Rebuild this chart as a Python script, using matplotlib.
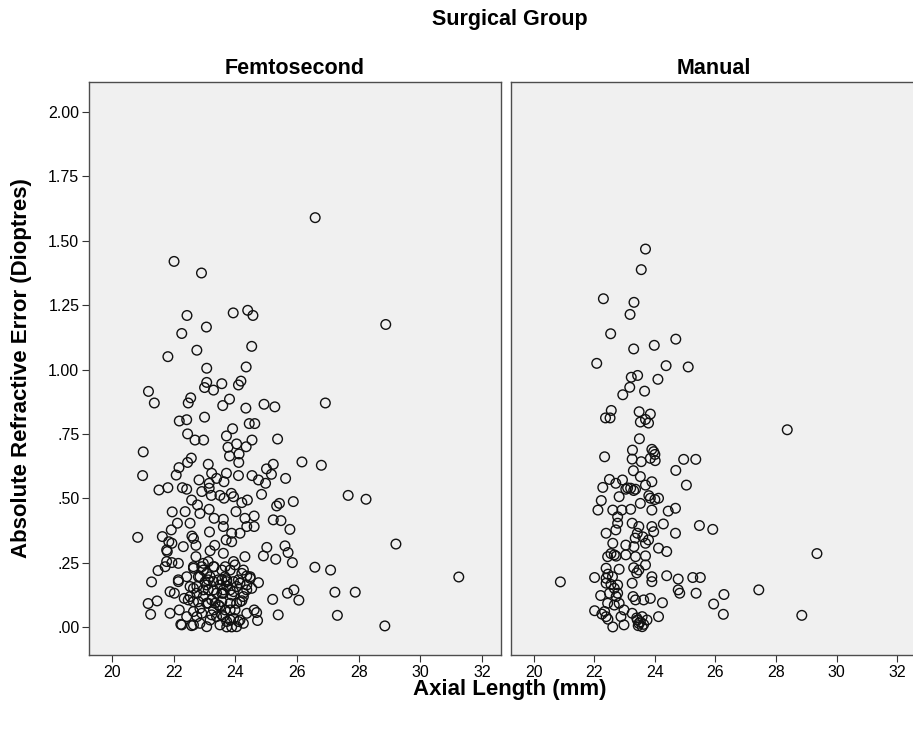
import matplotlib

matplotlib.use("Agg")
import matplotlib.pyplot as plt

plt.rcParams.update(
    {
        "font.family": ["Liberation Sans", "DejaVu Sans"],
        "figure.facecolor": "white",
        "savefig.facecolor": "white",
    }
)

# Femtosecond group: axial length (mm) vs absolute refractive error (D)
femto_axial = [
    26.59, 22.01, 22.90, 22.43, 23.93, 24.40, 24.57, 23.06, 22.26, 28.88,
    24.53, 22.75, 21.81, 23.07, 24.35, 23.07, 23.56, 24.18, 24.10, 23.00,
    23.29, 21.18, 21.37, 22.55, 22.47, 23.81, 23.59, 24.34, 24.93, 25.28,
    26.92, 23.00, 22.18, 22.42, 24.45, 24.63, 23.91,
    22.45, 22.69, 22.97, 23.71, 24.04, 24.54, 25.37, 23.76, 24.35,
    21.01, 24.12, 23.81, 24.11, 22.57, 22.45, 23.12, 26.16, 26.79, 25.23, 25.01,
    20.99, 22.17, 22.08, 23.71, 24.10, 24.54, 25.17, 25.63, 23.23, 23.39,
    22.82, 23.63, 24.75, 24.98, 23.15,
    21.52, 21.81, 22.28, 22.42, 22.91, 23.22, 23.87, 23.63, 24.85, 27.66,
    28.24, 22.58, 23.15, 23.50, 23.94,
    25.88, 25.43, 25.34, 22.77, 24.21, 24.39, 21.95, 22.37, 22.85, 23.15,
    24.02, 24.61, 23.31, 23.61, 24.31,
    25.23, 25.48, 25.77, 22.53, 22.12, 21.92, 23.61, 24.37, 24.61, 23.16,
    24.15, 23.88,
    20.83, 21.63, 21.84, 22.59, 22.64, 23.88, 23.70, 22.31, 22.72, 23.33,
    25.02, 25.61, 29.21, 21.79, 23.18,
    24.91, 25.31, 25.71, 25.85, 26.58, 27.09, 21.77, 21.94, 22.72, 23.61,
    24.31, 23.94, 23.12,
    21.49, 21.72, 22.64, 22.96, 23.31, 23.83, 24.21, 24.37, 22.42, 22.85,
    23.18, 23.66, 24.48, 24.75, 21.28,
    22.15, 22.53, 23.07, 23.50, 23.72, 24.04, 24.37, 22.02, 22.75, 23.39,
    23.88, 25.90, 25.69, 27.23, 27.89, 25.21, 26.06,
    21.17, 21.46, 22.34, 22.64, 23.23, 23.56, 24.21, 21.88, 22.18, 22.85,
    23.29, 23.83, 24.61, 24.69, 21.25, 25.39, 27.31,
    22.23, 22.58, 22.85, 23.18, 23.50, 23.88, 24.26, 24.72, 23.72, 28.85, 23.07,
    22.91, 23.07, 23.02, 23.29, 23.56, 23.72, 23.94, 22.75, 23.12, 23.61,
    23.83, 24.15, 22.53, 22.96, 23.34, 23.07, 23.50, 24.04, 24.26,
    22.42, 22.75, 23.39, 23.94, 24.10, 23.61, 22.64,
    31.25,
    # dense cluster
    21.94, 21.77, 22.15, 22.15, 21.88, 22.26, 22.64,
    22.64, 22.96, 23.29, 23.56, 22.80, 23.12, 23.45, 22.64, 22.96, 23.29,
    23.56, 22.47, 22.80, 23.12, 23.45, 22.91, 23.23, 23.56,
    23.67, 23.99, 24.26, 24.48, 23.72, 24.10, 24.37, 23.61, 23.94, 24.26,
    24.53, 23.83, 24.15, 23.67, 23.99, 24.37, 23.83, 24.15, 23.72, 24.04,
]
femto_error = [
    1.590, 1.420, 1.375, 1.210, 1.220, 1.230, 1.210, 1.165, 1.140, 1.175,
    1.090, 1.075, 1.050, 1.005, 1.010, 0.950, 0.945, 0.955, 0.940, 0.930,
    0.920, 0.915, 0.870, 0.890, 0.870, 0.885, 0.860, 0.850, 0.865, 0.855,
    0.870, 0.815, 0.800, 0.805, 0.790, 0.790, 0.770,
    0.750, 0.726, 0.726, 0.742, 0.711, 0.726, 0.730, 0.698, 0.700,
    0.680, 0.672, 0.664, 0.639, 0.656, 0.639, 0.632, 0.641, 0.628, 0.632, 0.614,
    0.588, 0.619, 0.590, 0.597, 0.588, 0.588, 0.593, 0.577, 0.597, 0.577,
    0.571, 0.564, 0.571, 0.558, 0.558,
    0.532, 0.541, 0.541, 0.535, 0.526, 0.511, 0.519, 0.500, 0.515, 0.511,
    0.496, 0.493, 0.539, 0.511, 0.506,
    0.487, 0.480, 0.470, 0.474, 0.483, 0.493, 0.447, 0.448, 0.441, 0.457,
    0.448, 0.431, 0.422, 0.418, 0.422,
    0.416, 0.413, 0.379, 0.403, 0.403, 0.377, 0.390, 0.390, 0.390, 0.369,
    0.364, 0.364,
    0.348, 0.351, 0.331, 0.353, 0.344, 0.331, 0.338, 0.312, 0.317, 0.317,
    0.309, 0.315, 0.322, 0.293, 0.296,
    0.276, 0.263, 0.289, 0.250, 0.232, 0.221, 0.254, 0.250, 0.273, 0.286,
    0.273, 0.254, 0.254,
    0.219, 0.234, 0.228, 0.221, 0.234, 0.221, 0.208, 0.198, 0.195, 0.195,
    0.195, 0.195, 0.189, 0.172, 0.175,
    0.176, 0.157, 0.163, 0.163, 0.159, 0.157, 0.144, 0.131, 0.131, 0.131,
    0.124, 0.144, 0.131, 0.135, 0.135, 0.107, 0.104,
    0.091, 0.101, 0.111, 0.098, 0.105, 0.098, 0.102, 0.053, 0.066, 0.072,
    0.066, 0.066, 0.066, 0.056, 0.049, 0.047, 0.045,
    0.010, 0.005, 0.014, 0.027, 0.008, 0.000, 0.014, 0.025, 0.021, 0.004, 0.001,
    0.234, 0.208, 0.176, 0.176, 0.183, 0.176, 0.176, 0.157, 0.144, 0.144,
    0.144, 0.170, 0.118, 0.118, 0.092, 0.092, 0.079, 0.092, 0.118,
    0.040, 0.040, 0.040, 0.034, 0.021, 0.040, 0.060,
    0.194,
    0.325, 0.299, 0.247, 0.183, 0.137, 0.008, 0.008,
    0.234, 0.247, 0.234, 0.221, 0.195, 0.183, 0.183, 0.150, 0.144, 0.144,
    0.131, 0.105, 0.098, 0.092, 0.085, 0.053, 0.047, 0.047,
    0.234, 0.241, 0.221, 0.195, 0.183, 0.183, 0.163, 0.131, 0.137, 0.131,
    0.150, 0.092, 0.098, 0.066, 0.066, 0.053, 0.027, 0.027, 0.000, 0.001,
]

# Manual group
manual_axial = [
    23.69, 23.55, 22.30, 23.31, 23.18, 22.54, 23.30, 23.98, 24.69, 22.08,
    24.37, 25.10, 23.22, 23.43, 24.10, 23.17, 23.66, 22.94, 22.56, 22.37,
    22.52, 23.48, 23.85, 23.69, 23.52, 23.79, 28.37,
    23.49, 23.26, 23.90, 23.96, 22.34, 23.25, 23.55, 24.01, 24.95, 25.35,
    24.69, 23.29, 23.52, 25.04, 22.50, 22.28, 22.71, 22.93, 23.04, 23.20,
    23.36, 23.69, 23.90, 23.85, 24.12, 22.23, 22.82, 23.52, 22.12, 22.61,
    22.91, 23.20, 23.90, 24.44, 24.68, 22.77, 22.77, 23.25, 23.47, 23.90,
    24.28, 23.96, 25.47, 25.91, 22.39, 22.71, 24.68, 23.42, 22.61, 23.04,
    23.31, 23.69, 23.79, 24.12, 24.39, 22.44, 22.66, 23.04, 23.36, 23.69,
    22.39, 22.82, 23.47, 23.69, 23.90, 24.39, 24.77, 25.25, 25.50, 20.88,
    22.01, 22.39, 22.39, 22.77, 23.25, 23.90, 24.77, 24.82, 25.36, 26.28,
    27.43, 22.21, 22.50, 22.77, 23.36, 23.63, 23.85, 24.25, 25.94, 22.44,
    22.66, 22.01, 22.34, 22.98, 23.25, 23.58, 24.12, 26.26, 28.85, 22.61,
    22.98, 23.47, 23.58, 23.42, 23.74, 22.88, 22.39,
    29.35,
    # dense column
    23.10, 23.30, 22.55, 22.72, 22.55, 22.66, 22.72, 23.40, 23.52, 23.63,
    23.45, 23.85, 24.00, 23.35, 23.60, 22.45, 22.60, 22.25, 22.45, 23.80,
    24.00, 23.30, 23.40, 23.28, 22.82,
]
manual_error = [
    1.468, 1.388, 1.275, 1.261, 1.214, 1.139, 1.080, 1.094, 1.118, 1.024,
    1.015, 1.010, 0.970, 0.977, 0.962, 0.931, 0.916, 0.902, 0.841, 0.812,
    0.812, 0.836, 0.827, 0.806, 0.796, 0.792, 0.766,
    0.731, 0.687, 0.690, 0.681, 0.661, 0.652, 0.642, 0.646, 0.651, 0.651,
    0.608, 0.607, 0.584, 0.551, 0.573, 0.542, 0.558, 0.571, 0.535, 0.539,
    0.535, 0.551, 0.564, 0.500, 0.500, 0.491, 0.506, 0.480, 0.454, 0.454,
    0.454, 0.457, 0.454, 0.450, 0.461, 0.428, 0.403, 0.403, 0.390, 0.390,
    0.400, 0.370, 0.394, 0.379, 0.364, 0.377, 0.364, 0.364, 0.325, 0.318,
    0.312, 0.325, 0.338, 0.306, 0.293, 0.273, 0.280, 0.280, 0.273, 0.276,
    0.228, 0.224, 0.221, 0.241, 0.195, 0.199, 0.186, 0.192, 0.192, 0.175,
    0.192, 0.189, 0.170, 0.163, 0.170, 0.176, 0.144, 0.131, 0.131, 0.126,
    0.144, 0.122, 0.131, 0.131, 0.105, 0.105, 0.111, 0.094, 0.089, 0.092,
    0.085, 0.063, 0.060, 0.066, 0.053, 0.040, 0.040, 0.049, 0.045, 0.000,
    0.008, 0.014, 0.001, 0.027, 0.027, 0.040, 0.040,
    0.285,
    0.540, 0.530, 0.285, 0.275, 0.165, 0.150, 0.118, 0.035, 0.020, 0.010,
    0.005, 0.655, 0.670, 0.345, 0.350, 0.205, 0.195, 0.050, 0.030, 0.510,
    0.495, 0.230, 0.210, 0.118, 0.092,
]

panels = ["Femtosecond", "Manual"]
x_ticks = [20, 22, 24, 26, 28, 30, 32]
y_ticks = [0.0, 0.25, 0.5, 0.75, 1.0, 1.25, 1.5, 1.75, 2.0]
y_tick_labels = [".00", ".25", ".50", ".75", "1.00", "1.25", "1.50", "1.75", "2.00"]

W, H = 913, 729
fig = plt.figure(figsize=(W / 100, H / 100), dpi=100)

bottom = 1 - 655 / H
top = 1 - 82 / H
boxes = [
    (89 / W, bottom, (501 - 89) / W, top - bottom),
    (511 / W, bottom, (916 - 511) / W, top - bottom),
]
data = [(femto_axial, femto_error), (manual_axial, manual_error)]

for i, (box, name, (xs, ys)) in enumerate(zip(boxes, panels, data)):
    ax = fig.add_axes(box)
    ax.set_facecolor("#f0f0f0")
    ax.scatter(xs, ys, s=48, facecolors="none", edgecolors="#111111", linewidths=1.0)
    ax.set_xlim(19.25, 32.62)
    ax.set_ylim(-0.109, 2.117)
    ax.set_xticks(x_ticks)
    ax.set_xticklabels([str(t) for t in x_ticks])
    for sp in ax.spines.values():
        sp.set_color("#4d4d4d")
        sp.set_linewidth(1.0)
    ax.tick_params(axis="x", direction="out", length=5, width=0.8, color="#333333",
                   labelsize=11.5, pad=2)
    if i == 0:
        ax.set_yticks(y_ticks)
        ax.set_yticklabels(y_tick_labels)
        ax.tick_params(axis="y", direction="out", length=5, width=0.8, color="#333333",
                       labelsize=11.5, pad=2)
    else:
        ax.set_yticks([])
    ax.set_title(name, fontsize=15.5, fontweight="bold", pad=6)

fig.text(510 / W, 1 - 20 / H, "Surgical Group", ha="center", va="center",
         fontsize=15.5, fontweight="bold")
fig.text(510 / W, 1 - 690 / H, "Axial Length (mm)", ha="center", va="center",
         fontsize=16, fontweight="bold")
fig.text(22 / W, 1 - 368 / H, "Absolute Refractive Error (Dioptres)", ha="center",
         va="center", rotation=90, fontsize=16, fontweight="bold")

fig.savefig("out.png", dpi=100)
